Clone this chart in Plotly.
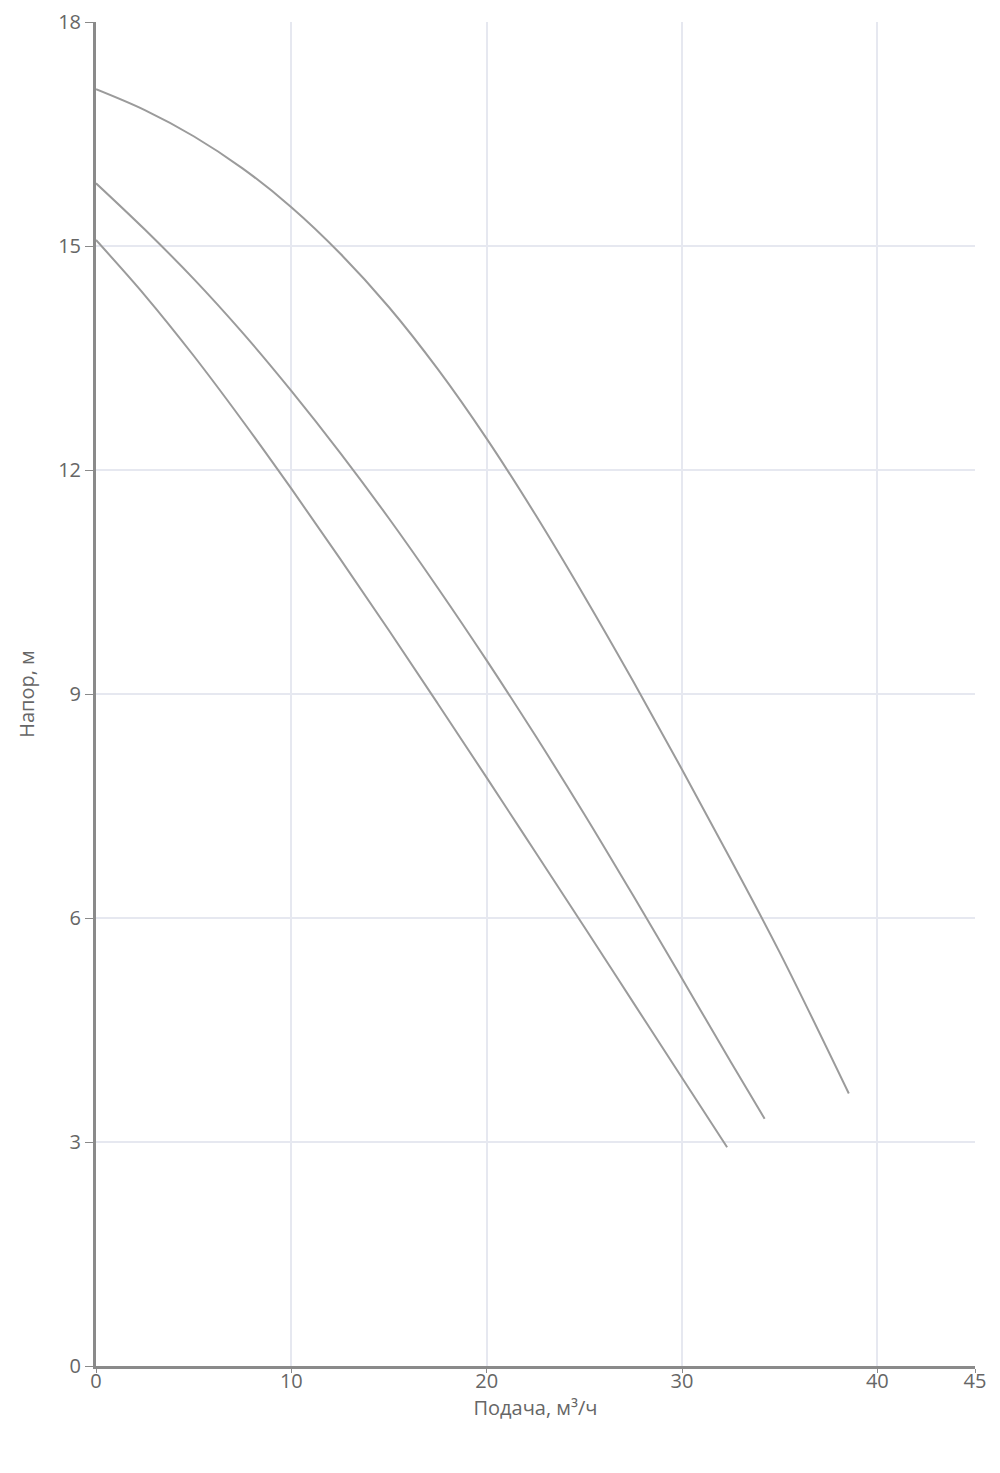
import plotly.graph_objects as go

# Flow Q (м³/ч) and head H (м) for three pump curves
q_top = [0, 2.5, 5, 7.5, 10, 12.5, 15, 17.5, 20, 22.5, 25, 27.5, 30, 32.5, 35, 38.54]
h_top = [17.1, 16.82, 16.47, 16.04, 15.52, 14.90, 14.18, 13.35, 12.42, 11.40, 10.31, 9.17, 7.99, 6.78, 5.54, 3.65]

q_mid = [0, 2.5, 5, 7.5, 10, 12.5, 15, 17.5, 20, 22.5, 25, 27.5, 30, 32.5, 34.23]
h_mid = [15.84, 15.22, 14.56, 13.84, 13.06, 12.23, 11.35, 10.42, 9.45, 8.44, 7.39, 6.30, 5.19, 4.07, 3.31]

q_low = [0, 2.5, 5, 7.5, 10, 12.5, 15, 17.5, 20, 22.5, 25, 27.5, 30, 32.31]
h_low = [15.08, 14.34, 13.53, 12.66, 11.75, 10.81, 9.85, 8.87, 7.88, 6.88, 5.88, 4.87, 3.86, 2.93]

x_ticks = [0, 10, 20, 30, 40, 45]
y_ticks = [0, 3, 6, 9, 12, 15, 18]

x_title = "Подача, м³/ч"
y_title = "Напор, м"

line_color = "rgb(155,155,155)"
grid_color = "#e6e8f0"
axis_color = "#8a8a8a"
text_color = "#666666"
font_family = "Open Sans"

fig = go.Figure()
for q, h in [(q_top, h_top), (q_mid, h_mid), (q_low, h_low)]:
    fig.add_trace(go.Scatter(x=q, y=h, mode="lines",
                             line=dict(color=line_color, width=2, shape="spline", smoothing=1.0),
                             showlegend=False, hoverinfo="skip"))

fig.update_layout(
    width=1000, height=1473,
    margin=dict(l=88, r=33, t=14, b=115),
    paper_bgcolor="white", plot_bgcolor="white",
    font=dict(family=font_family, size=20, color=text_color),
    showlegend=False,
)
fig.update_xaxes(
    range=[0, 45], tickvals=x_ticks, ticktext=[str(v) for v in x_ticks],
    showgrid=True, gridcolor=grid_color, gridwidth=2,
    showline=True, linecolor=axis_color, linewidth=3,
    ticks="outside", ticklen=4, tickcolor=axis_color, tickwidth=1,
    ticklabelstandoff=-9, automargin=False,
    zeroline=False,
    title=dict(text=x_title, font=dict(size=20, color=text_color), standoff=0),
    tickfont=dict(size=20, color=text_color),
)
fig.update_yaxes(
    range=[0, 18], tickvals=y_ticks, ticktext=[str(v) for v in y_ticks],
    showgrid=True, gridcolor=grid_color, gridwidth=2,
    showline=True, linecolor=axis_color, linewidth=3,
    ticks="outside", ticklen=8, tickcolor=axis_color, tickwidth=1,
    automargin=False,
    zeroline=False,
    title=dict(text=y_title, font=dict(size=20, color=text_color), standoff=19),
    tickfont=dict(size=20, color=text_color),
)

fig.write_html("out.html")
